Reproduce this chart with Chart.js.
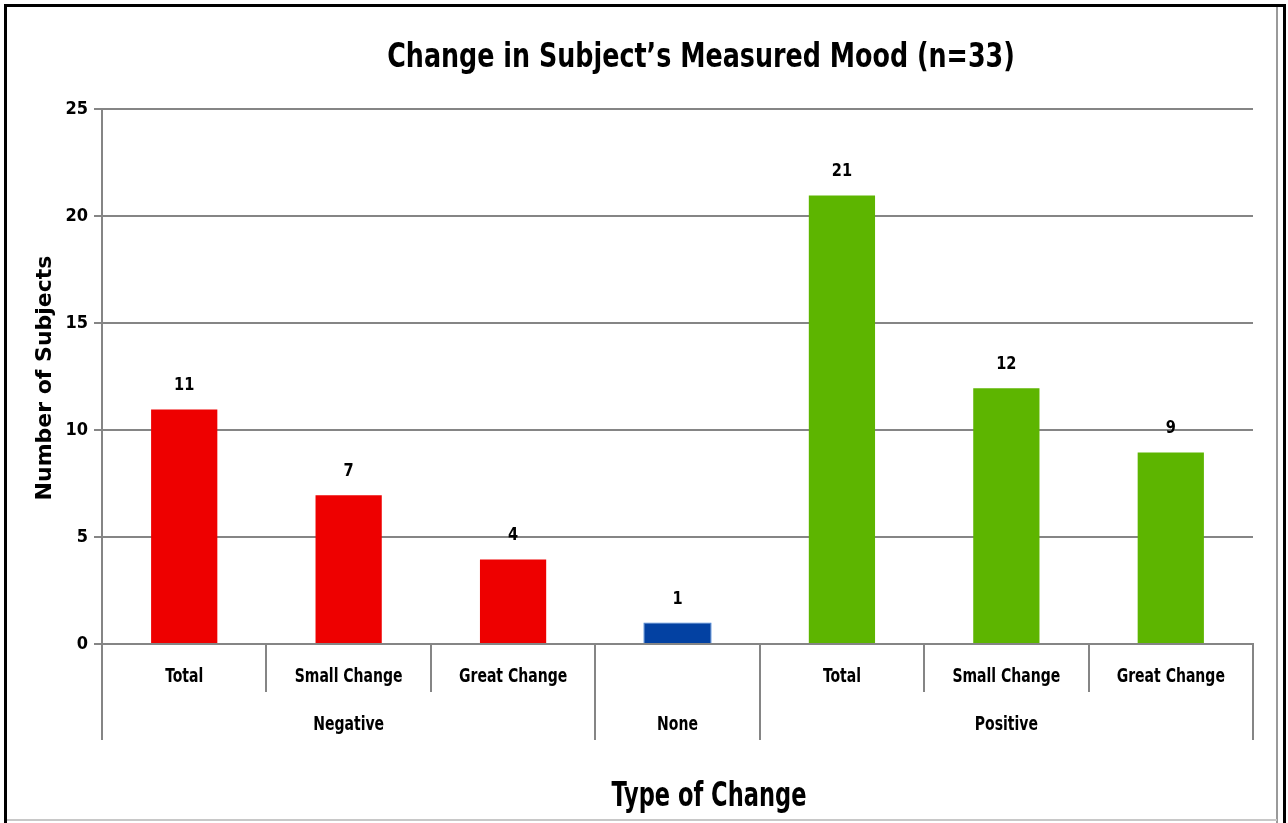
<!DOCTYPE html>
<html>
<head>
<meta charset="utf-8">
<script src="https://cdn.jsdelivr.net/npm/chart.js@4.4.0/dist/chart.umd.min.js"></script>
<style>
  html, body { margin: 0; padding: 0; background: #fff; }
  #wrap { position: relative; width: 1288px; height: 823px; overflow: hidden; }
  #chart { position: absolute; left: 0; top: 0; }
  .frame { position: absolute; left: 4px; top: 4px; width: 1282px; height: 830px;
           border: 3px solid #000; box-sizing: border-box; }
  .edge-v { position: absolute; left: 1276px; top: 7px; width: 2px; height: 816px; background: #9a9a9a; }
  .edge-h { position: absolute; left: 7px; top: 819px; width: 1270px; height: 2px; background: #c8c8c8; }
</style>
</head>
<body>
<div id="wrap">
  <canvas id="chart" width="1288" height="823"></canvas>
  <div class="frame"></div>
  <div class="edge-v"></div>
  <div class="edge-h"></div>
</div>
<script>
    'use strict';

    // chart data
    const subLabels = ['Total', 'Small Change', 'Great Change', '', 'Total', 'Small Change', 'Great Change'];
    const groupLabels = ['Negative', 'Negative', 'Negative', 'None', 'Positive', 'Positive', 'Positive'];
    const counts = [11, 7, 4, 1, 21, 12, 9];
    const yTicks = [0, 5, 10, 15, 20, 25];

    const RED = '#ee0000';
    const BLUE = '#0341a2';
    const GREEN = '#5db500';
    const barColors = groupLabels.map(g => g === 'Negative' ? RED : (g === 'None' ? BLUE : GREEN));
    const barBorders = groupLabels.map(g => g === 'None' ? '#3f7fd6' : 'rgba(0,0,0,0)');

    const NARROW = '"DejaVu Sans Condensed", "Liberation Sans Narrow", sans-serif';
    const GRID = '#858585';

    /**
     * Draw text squeezed horizontally (the original uses a narrow font)
     */
    function squeezed(ctx, text, x, y, sx) {
        ctx.save();
        ctx.translate(x, y);
        ctx.scale(sx, 1);
        ctx.fillText(text, 0, 0);
        ctx.restore();
    }

    /**
     * Draws title, axis titles, two-level category axis and value labels
     */
    const decorations = {
        id: 'decorations',
        afterDraw(chart) {
            const ctx = chart.ctx;
            const area = chart.chartArea;
            const x = chart.scales.x;
            const y = chart.scales.y;
            const n = subLabels.length;
            const step = (area.right - area.left) / n;
            const lowerY = area.bottom + 48;
            const groupY = area.bottom + 96;

            ctx.save();
            ctx.fillStyle = '#000';
            ctx.textAlign = 'center';
            ctx.textBaseline = 'middle';

            // title
            ctx.font = 'bold 34px ' + NARROW;
            squeezed(ctx, 'Change in Subject\u2019s Measured Mood (n=33)', 701, 58, 0.83);

            // x axis title
            ctx.font = 'bold 33px ' + NARROW;
            squeezed(ctx, 'Type of Change', 709, 797, 0.76);

            // y axis title
            ctx.save();
            ctx.translate(45, 378);
            ctx.rotate(-Math.PI / 2);
            ctx.font = 'bold 22px "DejaVu Sans", sans-serif';
            ctx.fillText('Number of Subjects', 0, 0);
            ctx.restore();

            // value labels
            ctx.font = 'bold 18px ' + NARROW;
            counts.forEach((v, i) => {
                squeezed(ctx, String(v), x.getPixelForValue(i), y.getPixelForValue(v) - 23, 0.9);
            });

            // category labels
            ctx.font = 'bold 19px ' + NARROW;
            subLabels.forEach((lab, i) => {
                if (lab) squeezed(ctx, lab, x.getPixelForValue(i), area.bottom + 33, 0.82);
            });

            // group labels
            let start = 0;
            for (let i = 1; i <= n; i++) {
                if (i === n || groupLabels[i] !== groupLabels[start]) {
                    const cx = (x.getPixelForValue(start) + x.getPixelForValue(i - 1)) / 2;
                    squeezed(ctx, groupLabels[start], cx, area.bottom + 81, 0.82);
                    start = i;
                }
            }

            // separators of the category axis
            ctx.strokeStyle = GRID;
            ctx.lineWidth = 2;
            for (let i = 0; i <= n; i++) {
                const bx = Math.round(area.left + step * i);
                const isGroupEdge = i === 0 || i === n || groupLabels[i] !== groupLabels[i - 1];
                ctx.beginPath();
                ctx.moveTo(bx, area.bottom);
                ctx.lineTo(bx, isGroupEdge ? groupY : lowerY);
                ctx.stroke();
            }
            ctx.restore();
        }
    };

    function initChart() {
        const ctx = document.getElementById('chart');
        new Chart(ctx.getContext('2d'), {
            type: 'bar',
            data: {
                labels: subLabels.map((s, i) => s || groupLabels[i]),
                datasets: [{
                    data: counts,
                    backgroundColor: barColors,
                    borderColor: barBorders,
                    borderWidth: 1,
                    categoryPercentage: 1,
                    barPercentage: 0.415
                }]
            },
            options: {
                responsive: false,
                animation: false,
                layout: { padding: { top: 109, right: 35, bottom: 179, left: 0 } },
                plugins: {
                    legend: { display: false },
                    title: { display: false },
                    tooltip: { enabled: false }
                },
                scales: {
                    x: {
                        ticks: { display: false },
                        grid: { display: false },
                        border: { display: true, color: GRID, width: 2 },
                        afterFit: s => { s.height = 0; }
                    },
                    y: {
                        min: yTicks[0],
                        max: yTicks[yTicks.length - 1],
                        afterBuildTicks: s => { s.ticks = yTicks.map(v => ({ value: v })); },
                        ticks: {
                            color: '#000',
                            padding: 6,
                            font: { family: NARROW, size: 18, weight: 'bold' }
                        },
                        grid: { color: GRID, lineWidth: 2, tickLength: 8 },
                        border: { color: GRID, width: 2 },
                        afterFit: s => { s.width = 102; }
                    }
                }
            },
            plugins: [decorations]
        });
    }

    initChart();
</script>
</body>
</html>
